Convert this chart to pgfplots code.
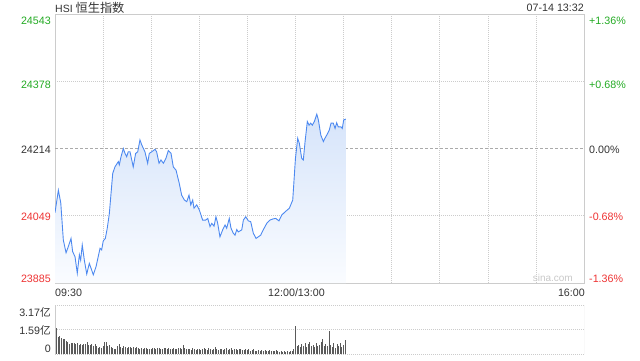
\documentclass[border=0pt]{standalone}
\usepackage{pgfplots}
\pgfplotsset{compat=1.18}
\usepackage{pgfplotstable}
\usepackage{fontspec}
\setmainfont{Liberation Sans}
\newfontfamily\cjk{Noto Sans CJK SC}
\definecolor{upg}{HTML}{22AA22}
\definecolor{dnr}{HTML}{EE3333}
\definecolor{txt}{HTML}{333333}
\definecolor{framec}{HTML}{CCCCCC}
\definecolor{gridc}{HTML}{CCCCCC}
\definecolor{gridm}{HTML}{AAAAAA}
\definecolor{linec}{HTML}{4D89F0}
\definecolor{fillt}{HTML}{D6E4FA}
\definecolor{fillb}{HTML}{FAFCFF}
\definecolor{volc}{HTML}{5A5A5A}
\definecolor{wm}{HTML}{C8C8C8}
\newcommand\fs{\fontsize{10.7bp}{12bp}\selectfont}

\pgfplotstableread[row sep=\\]{
m v\\
0 24057\\ 2.1 24112\\ 3.6 24081\\ 5.2 23990\\ 6.9 23959\\ 8.3 23974\\ 10.0 23994\\ 11.0 23962\\ 12.5 23949\\ 13.9 23909\\
15.2 23954\\ 16.0 23941\\ 17.0 23978\\ 18.3 23941\\ 19.8 23907\\ 21.4 23933\\ 22.5 23921\\ 23.9 23905\\ 25.6 23925\\ 28.1 23970\\
29.1 23966\\ 30.1 23988\\ 31.4 23994\\ 32.6 24019\\ 33.9 24055\\ 36.0 24153\\ 37.4 24169\\ 39.5 24182\\ 40.1 24174\\ 41.2 24194\\
42.6 24214\\ 43.7 24202\\ 44.7 24194\\ 45.7 24206\\ 46.8 24206\\ 48.8 24169\\ 50.3 24202\\ 51.6 24206\\ 53.0 24235\\ 54.1 24223\\
56.1 24206\\ 57.8 24178\\ 58.8 24202\\ 60.3 24206\\ 62.4 24212\\ 63.4 24206\\ 64.9 24178\\ 66.1 24186\\ 67.6 24178\\ 69.2 24190\\
70.7 24209\\ 72.4 24202\\ 73.8 24169\\ 75.5 24161\\ 77.5 24129\\ 79.0 24100\\ 80.7 24088\\ 82.2 24084\\ 83.6 24100\\ 84.7 24076\\
85.9 24088\\ 86.7 24068\\ 88.4 24076\\ 90.0 24064\\ 92.1 24039\\ 94.0 24039\\ 95.3 24043\\ 96.7 24023\\ 97.8 24031\\ 99.2 24024\\
100.4 24047\\ 101.5 24031\\ 102.9 23998\\ 104.6 24015\\ 106.1 24027\\ 107.1 24019\\ 108.7 24043\\ 109.8 24019\\ 111.2 24007\\ 112.3 24002\\
113.4 24016\\ 114.3 24010\\ 116.5 24015\\ 117.5 24039\\ 119.0 24047\\ 120.6 24037\\ 122.1 24035\\ 123.7 24007\\ 125.4 23994\\ 126.8 23998\\
128.3 24002\\ 129.9 24015\\ 132.1 24031\\ 134.1 24039\\ 136.2 24042\\ 137.7 24043\\ 139.7 24037\\ 141.4 24051\\ 143.5 24059\\ 146.2 24068\\
148.3 24088\\ 150 24190\\ 151.4 24239\\ 152.4 24227\\ 153.9 24190\\ 154.9 24186\\ 156.0 24231\\ 157.4 24280\\ 158.5 24271\\ 159.5 24276\\
160.5 24271\\ 161.8 24280\\ 163.3 24298\\ 164.3 24284\\ 165.8 24247\\ 167.4 24231\\ 168.4 24239\\ 170.1 24251\\ 171.1 24259\\ 172.2 24276\\
173.6 24276\\ 174.7 24263\\ 175.7 24277\\ 176.7 24267\\ 178.4 24267\\ 179.2 24263\\ 180.1 24284\\ 181.4 24286\\
}\price

\pgfplotstableread[row sep=\\]{
v\\
3.17\\1.66\\1.10\\1.16\\1.06\\0.99\\0.95\\0.84\\0.78\\0.67\\
0.73\\0.70\\0.70\\0.68\\0.73\\0.58\\0.64\\0.60\\0.66\\0.62\\
0.78\\0.60\\0.58\\0.62\\0.55\\0.65\\0.52\\0.41\\0.45\\0.40\\
0.55\\0.78\\0.80\\0.52\\0.58\\0.45\\0.40\\0.33\\0.30\\0.50\\
0.67\\0.45\\0.41\\0.50\\0.46\\0.41\\0.45\\0.45\\0.41\\0.46\\
0.38\\0.45\\0.40\\0.34\\0.42\\0.30\\0.36\\0.38\\0.30\\0.34\\
0.30\\0.40\\0.36\\0.30\\0.42\\0.38\\0.34\\0.30\\0.40\\0.36\\
0.30\\0.41\\0.35\\0.30\\0.38\\0.34\\0.30\\0.36\\0.40\\0.30\\
0.56\\0.40\\0.30\\0.34\\0.30\\0.26\\0.36\\0.32\\0.26\\0.30\\
0.35\\0.28\\0.30\\0.40\\0.33\\0.28\\0.36\\0.30\\0.26\\0.32\\
0.45\\0.30\\0.28\\0.35\\0.30\\0.26\\0.33\\0.40\\0.28\\0.30\\
0.36\\0.26\\0.30\\0.33\\0.28\\0.35\\0.30\\0.25\\0.28\\0.32\\
0.25\\0.30\\0.22\\0.26\\0.30\\0.22\\0.20\\0.26\\0.22\\0.25\\
0.20\\0.24\\0.18\\0.22\\0.26\\0.20\\0.18\\0.22\\0.25\\0.18\\
0.16\\0.20\\0.15\\0.18\\0.14\\0.17\\0.15\\0.18\\0.20\\0.30\\
1.83\\0.50\\0.60\\0.45\\0.65\\0.55\\0.70\\0.48\\0.62\\0.75\\
0.50\\0.60\\0.45\\0.70\\0.55\\0.58\\0.80\\0.95\\0.50\\0.62\\
0.55\\1.50\\0.60\\0.45\\0.70\\0.40\\0.65\\0.55\\0.70\\0.45\\
0.58\\0.90\\
}\vol

\begin{document}
\begin{tikzpicture}[x=1bp,y=1bp]
\useasboundingbox (0,0) rectangle (640,-360);

\begin{axis}[at={(55bp,-14bp)}, anchor=north west, scale only axis,
  width=529bp, height=269bp,
  xmin=0, xmax=330, ymin=23885, ymax=24543,
  scaled x ticks=false, scaled y ticks=false,
  xtick={30,60,...,300}, xticklabels={},
  ytick={24049.5,24378.5}, yticklabels={},
  extra y ticks={24214}, extra y tick labels={},
  extra y tick style={major grid style={draw=gridm, dash pattern=on 3bp off 2bp, line width=0.7bp}},
  grid=major, major grid style={draw=gridc, dash pattern=on 1bp off 1bp, line width=0.6bp},
  major tick length=0pt, tick style={draw=none},
  axis line style={draw=framec, line width=0.8bp}]
\addplot[draw=none, top color=fillt, bottom color=fillb] table[x=m, y=v] {\price}
  -- (axis cs:181.4,23885) -- (axis cs:0,23885) -- cycle;
\addplot[linec, line width=0.9bp, mark=none] table[x=m, y=v] {\price};
\end{axis}

\begin{axis}[at={(55bp,-305bp)}, anchor=north west, scale only axis,
  width=529bp, height=49bp,
  xmin=0, xmax=330, ymin=0, ymax=3.17,
  scaled x ticks=false, scaled y ticks=false,
  xtick=\empty, ytick={0,1.585,3.17}, yticklabels={},
  ymajorgrids, major grid style={draw=gridc, dash pattern=on 1bp off 1bp, line width=0.6bp},
  major tick length=0pt, tick style={draw=none},
  axis line style={draw=none}]
\addplot[ycomb, volc, line width=1bp, mark=none] table[x expr=\coordindex, y=v] {\vol};
\draw[framec, line width=0.8bp] (rel axis cs:0,0) -- (rel axis cs:0,1) (rel axis cs:1,0) -- (rel axis cs:1,1);
\end{axis}

% header
\node[anchor=base west, inner sep=0, text=txt] at (55,-12.5)
  {\fontsize{10.5bp}{12bp}\selectfont HSI {\cjk\fontsize{12.2bp}{14bp}\selectfont 恒生指数}};
\node[anchor=base east, inner sep=0, text=txt, font=\fs] at (584,-11) {07-14 13:32};

% left price labels
\node[anchor=base east, inner sep=0, text=upg, font=\fs] at (51,-24) {24543};
\node[anchor=base east, inner sep=0, text=upg, font=\fs] at (51,-88) {24378};
\node[anchor=base east, inner sep=0, text=txt, font=\fs] at (51,-153) {24214};
\node[anchor=base east, inner sep=0, text=dnr, font=\fs] at (51,-220.5) {24049};
\node[anchor=base east, inner sep=0, text=dnr, font=\fs] at (51,-282) {23885};

% right percent labels
\node[anchor=base west, inner sep=0, text=upg, font=\fs] at (589,-24) {+1.36\%};
\node[anchor=base west, inner sep=0, text=upg, font=\fs] at (589,-88) {+0.68\%};
\node[anchor=base west, inner sep=0, text=txt, font=\fs] at (589,-153) {0.00\%};
\node[anchor=base west, inner sep=0, text=dnr, font=\fs] at (589,-220.5) {-0.68\%};
\node[anchor=base west, inner sep=0, text=dnr, font=\fs] at (589,-282) {-1.36\%};

% watermark
\node[anchor=base east, inner sep=0, text=wm, font=\fontsize{10bp}{12bp}\selectfont] at (573,-281) {sina.com};

% time labels
\node[anchor=base west, inner sep=0, text=txt, font=\fs] at (55,-296.5) {09:30};
\node[anchor=base, inner sep=0, text=txt, font=\fs] at (296.5,-296.5) {12:00/13:00};
\node[anchor=base east, inner sep=0, text=txt, font=\fs] at (585,-296.5) {16:00};

% volume labels
\node[anchor=base east, inner sep=0, text=txt, font=\fs] at (51,-316) {3.17{\cjk 亿}};
\node[anchor=base east, inner sep=0, text=txt, font=\fs] at (51,-334) {1.59{\cjk 亿}};
\node[anchor=base east, inner sep=0, text=txt, font=\fs] at (51,-352) {0};
\end{tikzpicture}
\end{document}
